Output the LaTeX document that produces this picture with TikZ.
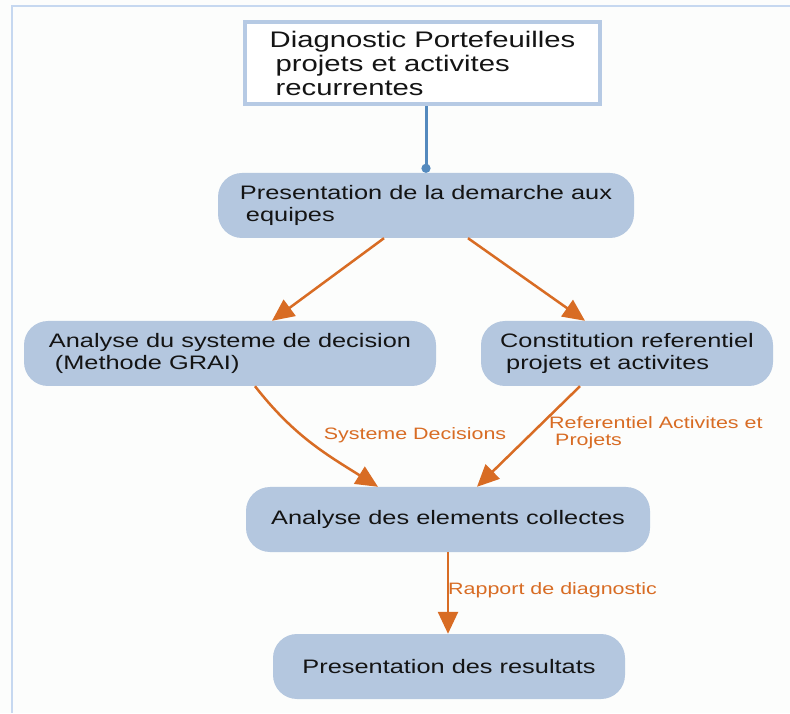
\documentclass[tikz,border=0pt]{standalone}
\usepackage{fontspec}
\setmainfont{Liberation Sans}[FakeStretch=1.3]
\usepackage{xcolor}
\usetikzlibrary{arrows.meta,calc}

\definecolor{stagefill}{RGB}{180,199,223}
\definecolor{flowcol}{RGB}{216,108,36}
\definecolor{linkcol}{RGB}{84,138,190}
\definecolor{framecol}{RGB}{198,216,240}
\definecolor{boxline}{RGB}{182,202,228}
\definecolor{paper}{RGB}{252,253,252}

\newcommand{\indl}{\hspace*{6pt}}

\begin{document}
\begin{tikzpicture}[
  x=1pt, y=1pt,
  stage/.style={rectangle, rounded corners=24pt, fill=stagefill, text=black!92,
    align=left, minimum height=65pt, inner sep=0pt,
    font=\fontsize{19.5}{21.5}\selectfont},
  topbox/.style={rectangle, draw=boxline, line width=4pt, fill=white,
    text=black!92, align=left, minimum width=355pt, minimum height=82pt,
    inner sep=0pt, font=\fontsize{22.5}{24}\selectfont},
  flow/.style={draw=flowcol, line width=2.5pt, -{Triangle[length=22pt,width=20pt]}},
  link/.style={draw=linkcol, line width=3pt, -{Circle[length=9pt]}},
  lbl/.style={text=flowcol, inner sep=0pt, align=left,
    font=\fontsize{16.5}{17}\selectfont}
]
  % background and frame
  \fill[paper] (0,0) rectangle (790,713);
  \useasboundingbox (0,0) rectangle (790,713);
  \draw[framecol, line width=2pt] (12,0) -- (12,707) -- (790,707);

  % nodes
  \node[topbox] (diag) at (422.5,650)
    {Diagnostic Portefeuilles\\ \indl projets et activites\\ \indl recurrentes};
  \node[stage, minimum width=416pt] (pres) at (426,507.5)
    {Presentation de la demarche aux\\ \indl equipes};
  \node[stage, minimum width=412pt] (grai) at (230,359.5)
    {Analyse du systeme de decision\\ \indl (Methode GRAI)};
  \node[stage, minimum width=292pt] (refer) at (627,359.5)
    {Constitution referentiel\\ \indl projets et activites};
  \node[stage, minimum width=404pt] (elem) at (448,193.5)
    {Analyse des elements collectes};
  \node[stage, minimum width=352pt] (resu) at (449,46.5)
    {Presentation des resultats};

  % connectors
  \draw[link] (diag.south -| pres.north) -- (pres.north);
  \draw[flow] ($(pres.south)+(-42,0)$) -- ($(grai.north)+(42,0)$);
  \draw[flow] ($(pres.south)+(42,0)$) -- ($(refer.north)+(-42,0)$);
  \draw[flow] ($(grai.south)+(25,0)$) to[out=-52,in=148] ($(elem.north)+(-70,0)$);
  \draw[flow] ($(refer.south)+(-47,0)$) -- ($(elem.north)+(29,0)$);
  \draw[flow] (elem.south) -- (elem.south |- resu.north);

  % labels
  \node[lbl] (lsys) at (415,278) {Systeme Decisions};
  \node[lbl, anchor=west] (lref) at (549,280)
    {Referentiel Activites et\\ \indl Projets};
  \node[lbl, anchor=west] (lrap) at (448,123) {Rapport de diagnostic};
\end{tikzpicture}
\end{document}
